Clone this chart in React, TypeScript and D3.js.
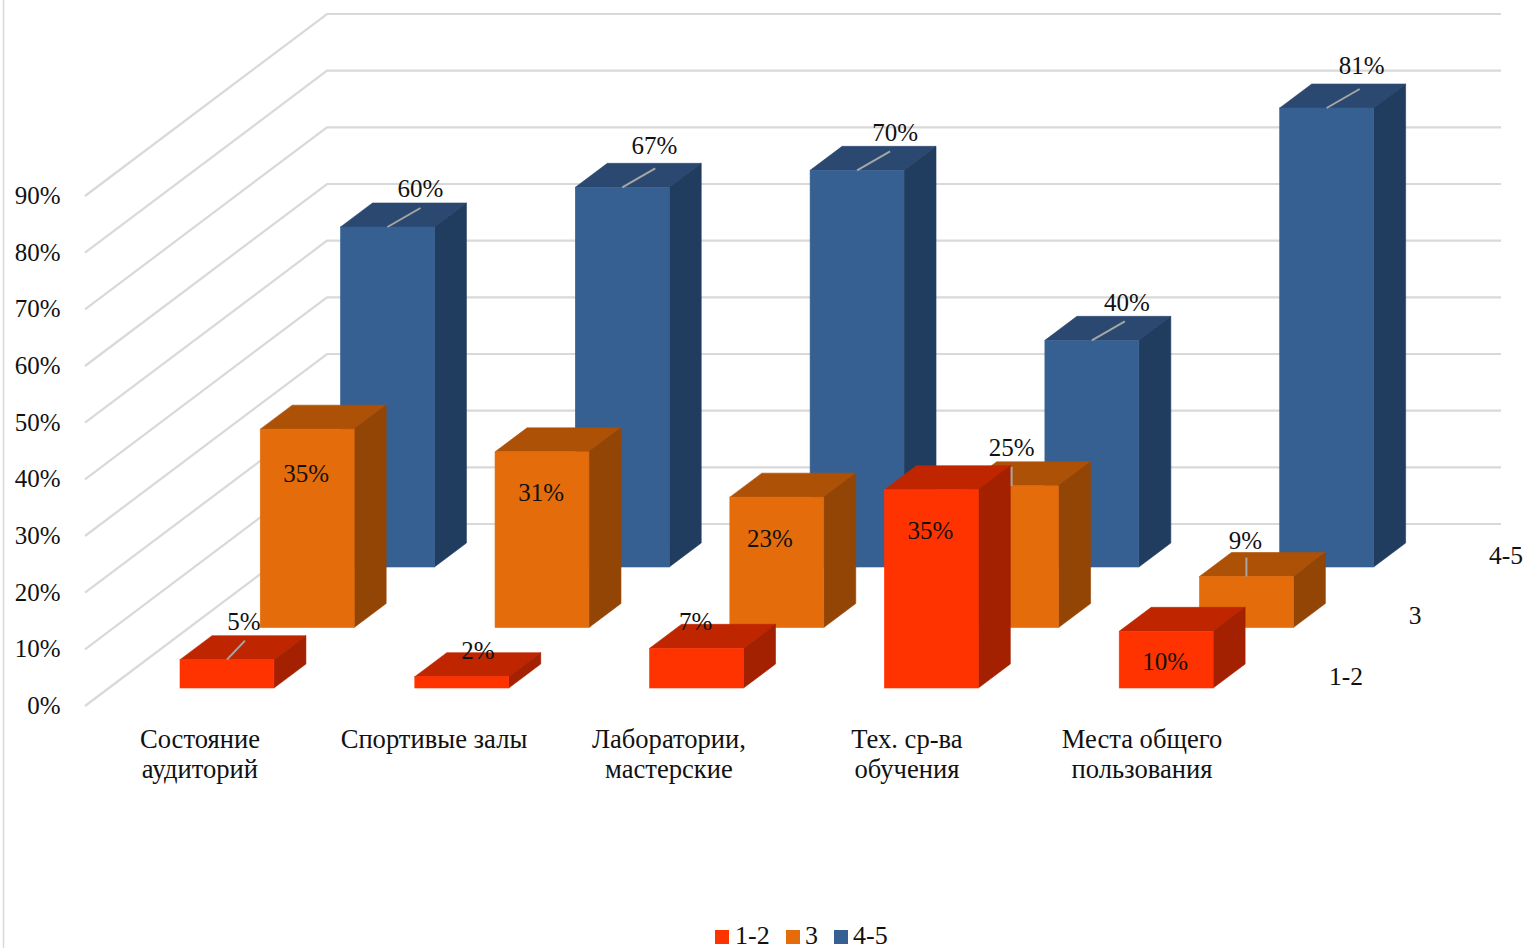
import React from 'react';
import * as d3 from 'd3';

const categories = [
    ['Состояние', 'аудиторий'],
    ['Спортивые залы'],
    ['Лаборатории,', 'мастерские'],
    ['Тех. ср-ва', 'обучения'],
    ['Места общего', 'пользования'],
];
const seriesNames = ['1-2', '3', '4-5'];
const values12 = [5, 2, 7, 35, 10];
const values3 = [35, 31, 23, 25, 9];
const values45 = [60, 67, 70, 40, 81];
const yTicks = [0, 10, 20, 30, 40, 50, 60, 70, 80, 90];

const WIDTH = 1529;
const HEIGHT = 948;
const FONT = '"Liberation Serif", "Times New Roman", serif';
const GRID = '#d9d9d9';

const COLORS: Record<string, { front: string; top: string; side: string }> = {
    '1-2': { front: '#ff3300', top: '#bf2600', side: '#a32000' },
    '3': { front: '#e46c0a', top: '#ad5106', side: '#934506' },
    '4-5': { front: '#376092', top: '#2b4870', side: '#203d5f' },
};

// label placement relative to the front top-left corner of each bar
type LabelPos = { dx: number; dy: number; leader?: 'slant' | 'short' | 'vert' };
const LABEL_POS: Record<string, LabelPos[]> = {
    '1-2': [
        { dx: 64, dy: -38, leader: 'short' },
        { dx: 63, dy: -26 },
        { dx: 46, dy: -27 },
        { dx: 46, dy: 41 },
        { dx: 46, dy: 30 },
    ],
    '3': [
        { dx: 46, dy: 44 },
        { dx: 46, dy: 41 },
        { dx: 40, dy: 41 },
        { dx: 47, dy: -38, leader: 'vert' },
        { dx: 46, dy: -36, leader: 'vert' },
    ],
    '4-5': [
        { dx: 80, dy: -39, leader: 'slant' },
        { dx: 79, dy: -42, leader: 'slant' },
        { dx: 85, dy: -38, leader: 'slant' },
        { dx: 82, dy: -38, leader: 'slant' },
        { dx: 82, dy: -43, leader: 'slant' },
    ],
};
const CATEGORY_NUDGE = [-27, -27.8, -27.6, -24.4, -24.2];
const SERIES_LABEL_X: Record<string, number> = { '1-2': 1346, '3': 1415, '4-5': 1506 };

const DEPTH_X = 32;
const DEPTH_Y = -24;
const WALL_X = 242;
const WALL_Y = -182;

const y = d3.scaleLinear().domain([0, 90]).range([706, 196]);
const xBand = d3.scaleBand<number>()
    .domain(d3.range(categories.length))
    .range([109.56, 1283.56])
    .paddingInner(0.6)
    .paddingOuter(0.3);
const seriesX = d3.scalePoint<string>().domain(seriesNames).range([0, 160.5]);
const seriesY = d3.scalePoint<string>().domain(seriesNames).range([-18, -139]);
const seriesValues: Record<string, number[]> = { '1-2': values12, '3': values3, '4-5': values45 };

const poly = (pts: [number, number][]) => d3.line()(pts) + 'Z';

const Bar: React.FC<{ s: string; i: number; v: number }> = ({ s, i, v }) => {
    const x0 = (xBand(i) as number) + (seriesX(s) as number);
    const x1 = x0 + xBand.bandwidth();
    const base = y(0) + (seriesY(s) as number);
    const top = base - (y(0) - y(v));
    const c = COLORS[s];
    return (
        <g strokeWidth={0.6}>
            <path d={poly([[x0, top], [x1, top], [x1 + DEPTH_X, top + DEPTH_Y], [x0 + DEPTH_X, top + DEPTH_Y]])} fill={c.top} stroke={c.top} />
            <path d={poly([[x1, top], [x1 + DEPTH_X, top + DEPTH_Y], [x1 + DEPTH_X, base + DEPTH_Y], [x1, base]])} fill={c.side} stroke={c.side} />
            <rect x={x0} y={top} width={x1 - x0} height={base - top} fill={c.front} stroke={c.front} />
        </g>
    );
};

const BarLabel: React.FC<{ s: string; i: number; v: number }> = ({ s, i, v }) => {
    const x0 = (xBand(i) as number) + (seriesX(s) as number);
    const base = y(0) + (seriesY(s) as number);
    const top = base - (y(0) - y(v));
    const pos = LABEL_POS[s][i];
    const mid = x0 + xBand.bandwidth() / 2;
    return (
        <g>
            {pos.leader === 'slant' && <line x1={mid} y1={top} x2={mid + 33} y2={top - 19} stroke="#a6a6a6" strokeWidth={2} />}
            {pos.leader === 'short' && <line x1={mid} y1={top} x2={mid + 18} y2={top - 19} stroke="#a6a6a6" strokeWidth={2} />}
            {pos.leader === 'vert' && <line x1={mid} y1={top} x2={mid} y2={top - 19} stroke="#a6a6a6" strokeWidth={2} />}
            <text x={x0 + pos.dx} y={top + pos.dy} textAnchor="middle" dominantBaseline="central" fontSize={25}>{v}%</text>
        </g>
    );
};

const legendItems = [
    { name: '1-2', box: 715, text: 735 },
    { name: '3', box: 786, text: 805 },
    { name: '4-5', box: 834, text: 853 },
];

const App: React.FC = () => (
    <svg width={WIDTH} height={HEIGHT} viewBox={`0 0 ${WIDTH} ${HEIGHT}`}
        style={{ position: 'absolute', left: 0, top: 0, background: '#fff' }} fontFamily={FONT} fill="#111">
        <line x1={3.5} y1={0} x2={3.5} y2={HEIGHT} stroke={GRID} strokeWidth={1.5} />

        {yTicks.map(t => (
            <g key={t}>
                <path d={d3.line()([[85, y(t)], [85 + WALL_X, y(t) + WALL_Y], [1501, y(t) + WALL_Y]]) as string}
                    fill="none" stroke={GRID} strokeWidth={2.2} />
                <text x={60.5} y={y(t) - 0.5} textAnchor="end" dominantBaseline="central" fontSize={25}>{t}%</text>
            </g>
        ))}

        {[...seriesNames].reverse().map(s => (
            <g key={s}>
                {seriesValues[s].map((v, i) => <Bar key={i} s={s} i={i} v={v} />)}
            </g>
        ))}
        {[...seriesNames].reverse().map(s => (
            <g key={s}>
                {seriesValues[s].map((v, i) => <BarLabel key={i} s={s} i={i} v={v} />)}
            </g>
        ))}

        {categories.map((lines, i) => (
            <text key={i} textAnchor="middle" fontSize={26.6}>
                {lines.map((l, j) => (
                    <tspan key={j} x={(xBand(i) as number) + xBand.bandwidth() / 2 + CATEGORY_NUDGE[i]} y={748 + j * 30}>{l}</tspan>
                ))}
            </text>
        ))}

        {seriesNames.map(s => (
            <text key={s} x={SERIES_LABEL_X[s]} y={y(0) + (seriesY(s) as number) - 12}
                textAnchor="middle" dominantBaseline="central" fontSize={25.5}>{s}</text>
        ))}

        {legendItems.map(l => (
            <g key={l.name}>
                <rect x={l.box} y={930} width={14} height={14} fill={COLORS[l.name].front} />
                <text x={l.text} y={944} fontSize={26}>{l.name}</text>
            </g>
        ))}
    </svg>
);

export default App;
